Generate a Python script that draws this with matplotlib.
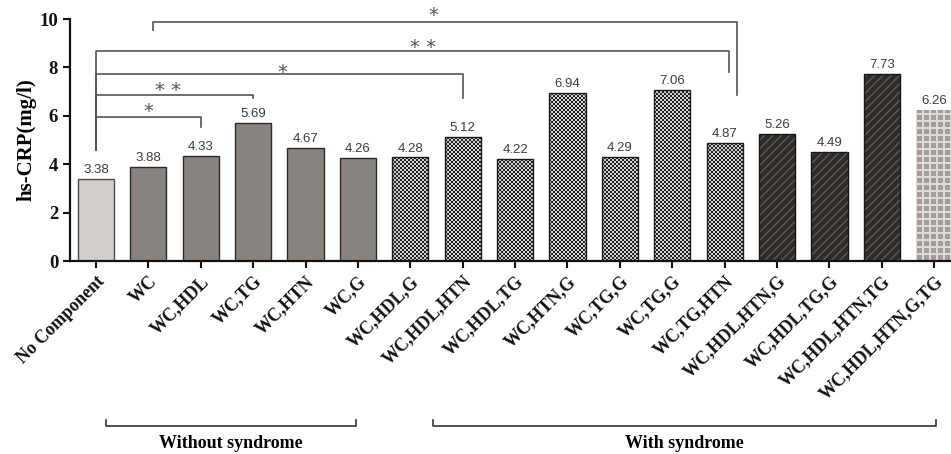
import numpy as np
import matplotlib.pyplot as plt
from matplotlib.transforms import blended_transform_factory


# ----------------------------
# Data
# ----------------------------
labels = [
    "No Component", "WC", "WC,HDL", "WC,TG", "WC,HTN", "WC,G",
    "WC,HDL,G", "WC,HDL,HTN", "WC,HDL,TG", "WC,HTN,G", "WC,TG,G",
    "WC,TG,G", "WC,TG,HTN", "WC,HDL,HTN,G", "WC,HDL,TG,G",
    "WC,HDL,HTN,TG", "WC,HDL,HTN,G,TG",
]
values = [3.38, 3.88, 4.33, 5.69, 4.67, 4.26, 4.28, 5.12, 4.22, 6.94,
          4.29, 7.06, 4.87, 5.26, 4.49, 7.73, 6.26]
fill_kind = ["light"] + ["gray"] * 5 + ["check"] * 7 + ["hatch"] * 3 + ["grid"]

# significance brackets: x left, x right, bar y, left foot, right foot, stars, star x, star baseline
brackets = [
    (0.0, 2.0, 5.95, 4.59, 5.54, "*", 1.0, 5.97),
    (0.0, 3.0, 6.86, 4.59, 6.74, "* *", 1.37, 6.80),
    (0.0, 7.0, 7.71, 4.59, 6.74, "*", 3.55, 7.58),
    (0.0, 12.08, 8.68, 4.59, 7.81, "* *", 6.24, 8.58),
    (1.09, 12.23, 9.88, 9.55, 6.86, "*", 6.43, 9.90),
]

# group spans along x (data units)
group_names = ["Without syndrome", "With syndrome"]
group_spans = [(0.19, 4.96), (6.43, 16.04)]

SERIF = "Liberation Serif"
SANS = "Liberation Sans"

# ----------------------------
# Figure
# ----------------------------
fig = plt.figure(figsize=(9.51, 4.54), dpi=100)
ax = fig.add_axes([0.0736, 0.4251, 0.9264, 0.533])

XLIM = (-0.496, 16.32)
YLIM = (0, 10)
ax.set_xlim(*XLIM)
ax.set_ylim(*YLIM)

x = np.arange(len(values))
bars = ax.bar(x, values, width=0.69, zorder=2)

# pixel size of one data unit, used to build the pattern fills
p0 = ax.transData.transform((0, 0))
p1 = ax.transData.transform((1, 1))
sx, sy = p1[0] - p0[0], p1[1] - p0[1]


def hex_rgb(c):
    c = c.lstrip("#")
    return [int(c[i:i + 2], 16) / 255 for i in (0, 2, 4)]


# checkerboard tile (2 px cells)
dark, light = hex_rgb("#222222"), hex_rgb("#d0d0d0")
check_tile = np.zeros((4, 4, 3))
for i in range(4):
    for j in range(4):
        check_tile[i, j] = dark if (i // 2 + j // 2) % 2 == 0 else light

# square grid tile (5 px squares, 2 px gaps)
sq, gap = hex_rgb("#a29d9b"), hex_rgb("#dedad8")
grid_tile = np.zeros((7, 7, 3))
grid_tile[:] = gap
grid_tile[1:6, 1:6] = sq


def pattern_fill(bar, tile):
    x0, y0 = bar.get_x(), bar.get_y()
    w, h = bar.get_width(), bar.get_height()
    nx, ny = int(np.ceil(w * sx)), int(np.ceil(h * sy))
    reps = (ny // tile.shape[0] + 1, nx // tile.shape[1] + 1, 1)
    img = np.tile(tile, reps)[:ny, :nx]
    im = ax.imshow(img, extent=(x0, x0 + w, y0, y0 + h), origin="lower",
                   aspect="auto", interpolation="nearest", zorder=1.8)
    im.set_clip_path(bar)


for bar, kind in zip(bars, fill_kind):
    if kind == "light":
        bar.set_facecolor("#d2cecc")
        bar.set_edgecolor("#4a4a4a")
        bar.set_linewidth(1.0)
    elif kind == "gray":
        bar.set_facecolor("#89837f")
        bar.set_edgecolor("#2a2a2a")
        bar.set_linewidth(1.0)
    elif kind == "check":
        bar.set_facecolor("none")
        bar.set_edgecolor("#1a1a1a")
        bar.set_linewidth(1.0)
        pattern_fill(bar, check_tile)
    elif kind == "hatch":
        bar.set_facecolor("#2d2b2a")
        bar.set_edgecolor("#5e5a58")
        bar.set_hatch("////")
        bar.set_linewidth(0)
        ax.bar(bar.get_x() + bar.get_width() / 2, bar.get_height(),
               width=bar.get_width(), fill=False, edgecolor="#151515",
               linewidth=1.0, zorder=2.1)
    elif kind == "grid":
        bar.set_facecolor("none")
        bar.set_edgecolor("none")
        pattern_fill(bar, grid_tile)

ax.set_xlim(*XLIM)
ax.set_ylim(*YLIM)

# value labels
for xi, v in zip(x, values):
    ax.text(xi, v + 0.12, f"{v:.2f}", ha="center", va="bottom",
            fontsize=9.5, family=SANS, color="#3c3c3c", zorder=3)

# significance brackets
for xl, xr, yb, yfl, yfr, stars, tx, ty in brackets:
    ax.plot([xl, xl, xr, xr], [yfl, yb, yb, yfr], color="#555555",
            linewidth=1.2, clip_on=False, zorder=3)
    ax.text(tx, ty, stars, ha="center", va="baseline", fontsize=14,
            family="DejaVu Sans", color="#555555", clip_on=False)

# ----------------------------
# Axes styling
# ----------------------------
for side in ("top", "right"):
    ax.spines[side].set_visible(False)
for side in ("left", "bottom"):
    ax.spines[side].set_linewidth(1.6)
    ax.spines[side].set_color("#111111")

ax.set_yticks(np.arange(0, 11, 2))
ax.tick_params(axis="both", direction="out", length=5, width=1.5, colors="#111111")
for t in ax.get_yticklabels():
    t.set_fontfamily(SERIF)
    t.set_fontweight("bold")
    t.set_fontsize(13.5)

ax.set_xticks(x)
ax.set_xticklabels(labels, rotation=45, ha="right", va="top",
                   rotation_mode="anchor", family=SERIF,
                   fontweight="bold", fontsize=13)

ax.set_ylabel("hs-CRP(mg/l)", family=SERIF, fontweight="bold",
              fontsize=15, labelpad=2)

# group brackets under the tick labels
trans = blended_transform_factory(ax.transData, fig.transFigure)
for name, (g0, g1) in zip(group_names, group_spans):
    ax.plot([g0, g0, g1, g1], [0.075, 0.062, 0.062, 0.075], color="#333333",
            linewidth=1.2, transform=trans, clip_on=False)
    ax.text((g0 + g1) / 2, 0.024, name, transform=trans, ha="center",
            va="center", family=SERIF, fontweight="bold", fontsize=13)

plt.savefig("out.png", dpi=100)
plt.close()
